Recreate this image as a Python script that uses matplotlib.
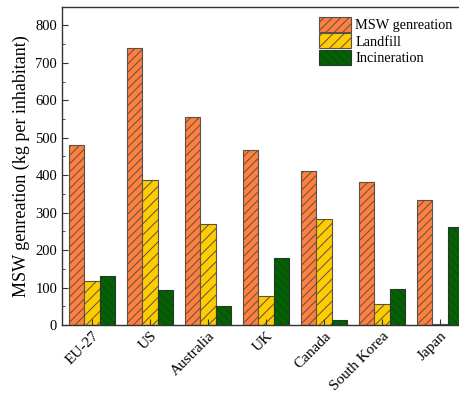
import numpy as np
import matplotlib.pyplot as plt
from matplotlib.ticker import MultipleLocator

plt.rcParams['font.family'] = ['Liberation Serif', 'DejaVu Serif']
plt.rcParams['hatch.linewidth'] = 0.7

# per-capita municipal solid waste figures (kg per inhabitant)
countries = ['EU-27', 'US', 'Australia', 'UK', 'Canada', 'South Korea', 'Japan']
msw = [480, 740, 555, 466, 411, 383, 335]
landfill = [118, 387, 269, 77, 284, 55, 2]
incineration = [130, 93, 51, 178, 13, 96, 263]

fig = plt.figure(figsize=(4.59, 3.93), dpi=100)
ax = fig.add_axes([0.135, 0.173, 0.887, 0.810])

x = np.arange(len(countries))
w = 0.264
edge = '#5a5048'
ax.bar(x - w, msw, w, color='#ff7f3f', edgecolor=edge, hatch='////',
       linewidth=0.8, label='MSW genreation')
ax.bar(x, landfill, w, color='#ffcc00', edgecolor=edge, hatch='///',
       linewidth=0.8, label='Landfill')
ax.bar(x + w, incineration, w, color='#006400', edgecolor='#263826', hatch='\\\\\\\\',
       linewidth=0.8, label='Incineration')

ax.set_xlim(-0.52, 6.5)
ax.set_ylim(0, 850)
ax.set_xticks(x)
ax.set_xticklabels(countries, rotation=45, ha='right', rotation_mode='anchor')
ax.yaxis.set_major_locator(MultipleLocator(100))
ax.yaxis.set_minor_locator(MultipleLocator(50))
ax.tick_params(axis='both', which='major', direction='in', length=4, labelsize=10.5, color='#333333')
ax.tick_params(axis='x', labelsize=11, pad=3)
ax.tick_params(axis='y', which='minor', direction='in', length=2.5, color='#333333')
ax.set_ylabel('MSW genreation (kg per inhabitant)', fontsize=13, labelpad=4)

for s in ax.spines.values():
    s.set_color('#333333')
    s.set_linewidth(1.0)

leg = ax.legend(loc='upper left', bbox_to_anchor=(0.631, 0.968), frameon=False, fontsize=10.3,
                handlelength=2.25, handleheight=1.2, labelspacing=0.1, handletextpad=0.3,
                borderpad=0.0, borderaxespad=0.0)

fig.savefig('out.png', dpi=100)
